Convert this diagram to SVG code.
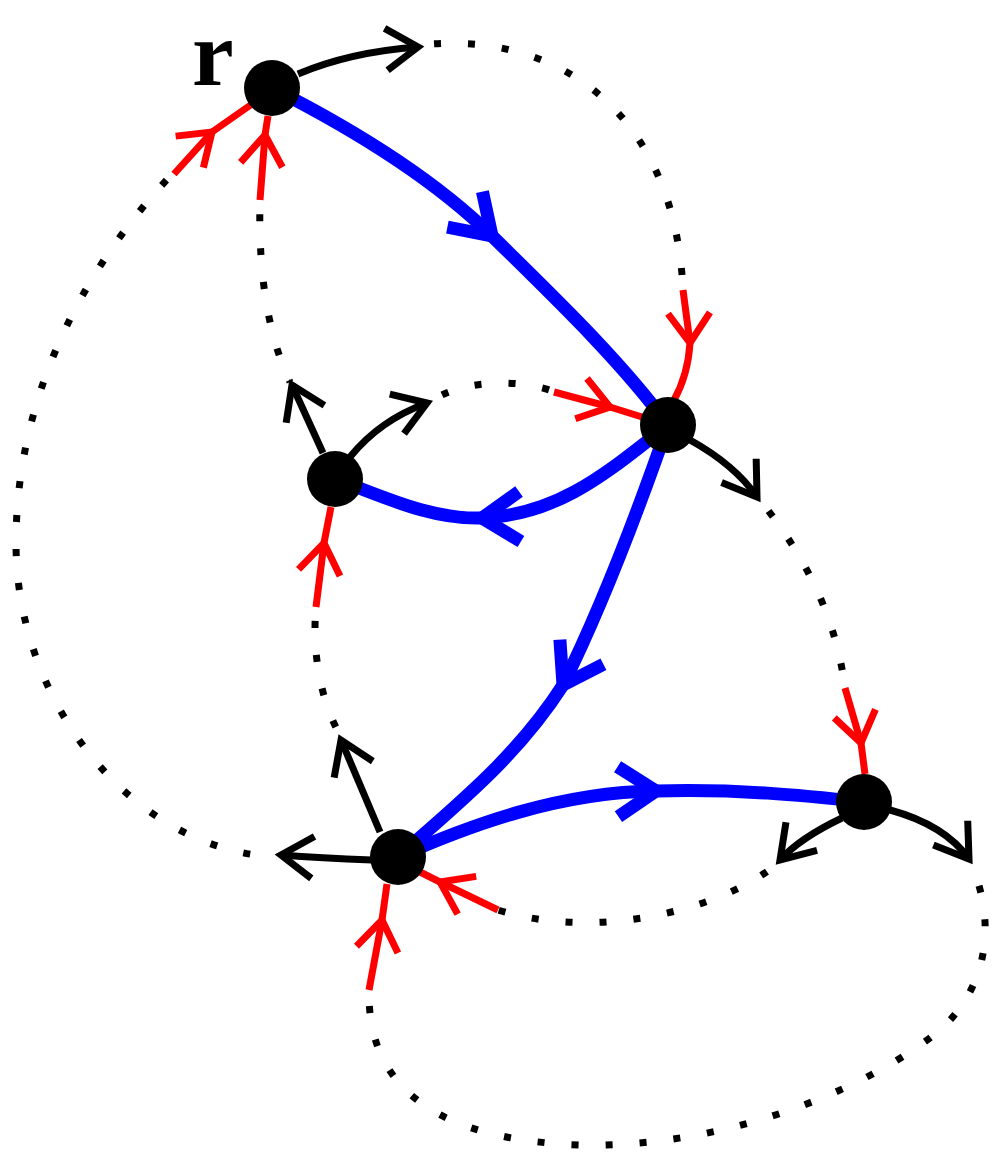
<svg xmlns="http://www.w3.org/2000/svg" width="992" height="1153" viewBox="0 0 992 1153">
<style>
.dot{fill:none;stroke:#000;stroke-width:7;stroke-dasharray:7 27;stroke-dashoffset:20;stroke-linecap:butt}
.blue{fill:none;stroke:#0000ff;stroke-width:13;marker-mid:url(#mb)}
.out{fill:none;stroke:#000;stroke-width:7;marker-end:url(#mk)}
.in{fill:none;stroke:#ff0000;stroke-width:7;marker-mid:url(#mr);stroke-linejoin:round}
.node{fill:#000}
.lbl{font-family:"Liberation Serif",serif;font-weight:bold;font-size:94px;fill:#000}
</style>
<defs>
<marker id="mb" markerUnits="userSpaceOnUse" orient="auto" markerWidth="1" markerHeight="1" refX="0" refY="0" style="overflow:visible"><path d="M -38,-25 L 0,0 L -38,25" fill="none" stroke="#0000ff" stroke-width="13"/></marker>
<marker id="mk" markerUnits="userSpaceOnUse" orient="auto" markerWidth="1" markerHeight="1" refX="0" refY="0" style="overflow:visible"><path d="M -32,-21 L 0,0 L -32,21" fill="none" stroke="#000" stroke-width="7"/></marker>
<marker id="mr" markerUnits="userSpaceOnUse" orient="auto" markerWidth="1" markerHeight="1" refX="0" refY="0" style="overflow:visible"><path d="M -30,-21 L 0,0 L -30,21" fill="none" stroke="#ff0000" stroke-width="7"/></marker>
</defs>
<g id="connectors">
<path class="dot" d="M 420,45 C 560,30 675,115 683,290"/>
<path class="dot" d="M 176,170 C 80,270 16,400 16,543 C 16,700 130,850 277,857"/>
<path class="dot" d="M 260,200 C 258,280 270,340 290,382"/>
<path class="dot" d="M 430,402 C 460,380 520,378 555,392"/>
<path class="dot" d="M 760,500 C 800,550 835,610 845,688"/>
<path class="dot" d="M 316,607 C 312,650 320,700 340,735"/>
<path class="dot" d="M 778,863 C 725,908 600,942 498,910"/>
<path class="dot" d="M 369,992 C 368,1090 440,1140 580,1145 C 740,1148 880,1080 940,1030 C 990,985 995,920 972,866"/>
<path class="blue" d="M 272,88 C 345,125 430,175 492,236 C 555,298 620,360 668,425"/>
<path class="blue" d="M 668,425 C 610,470 560,515 482,518 C 430,520 380,495 335,479"/>
<path class="blue" d="M 668,425 C 635,520 600,610 563,685 C 515,760 450,810 398,857"/>
<path class="blue" d="M 398,857 C 470,825 560,792 656,791 C 740,789 800,795 864,802"/>
<path class="out" d="M 298,74 Q 350,52 418,47"/>
<path class="out" d="M 690,440 Q 735,465 757,497"/>
<path class="out" d="M 323,453 L 292,385"/>
<path class="out" d="M 350,457 Q 380,420 427,403"/>
<path class="out" d="M 380,832 L 341,740"/>
<path class="out" d="M 372,860 Q 320,858 281,855"/>
<path class="out" d="M 842,818 Q 800,838 780,860"/>
<path class="out" d="M 890,810 Q 945,825 969,859"/>
<path class="in" d="M 174,174 L 212,132 L 252,104"/>
<path class="in" d="M 260,200 L 265,135 L 268,116"/>
<path class="in" d="M 683,290 L 690,343 Q 688,375 674,400"/>
<path class="in" d="M 554,392 L 610,407 L 642,417"/>
<path class="in" d="M 316,607 L 324,543 L 331,507"/>
<path class="in" d="M 369,990 L 382,920 L 387,884"/>
<path class="in" d="M 498,910 L 440,882 L 420,872"/>
<path class="in" d="M 845,688 L 861,743 L 865,774"/>
</g>
<g id="node-r"><circle class="node" cx="272" cy="88" r="28"/><text class="lbl" x="192" y="85">r</text></g>
<g id="node-a"><circle class="node" cx="668" cy="425" r="28"/></g>
<g id="node-b"><circle class="node" cx="335" cy="479" r="28"/></g>
<g id="node-c"><circle class="node" cx="398" cy="857" r="28"/></g>
<g id="node-d"><circle class="node" cx="864" cy="802" r="28"/></g>
</svg>
